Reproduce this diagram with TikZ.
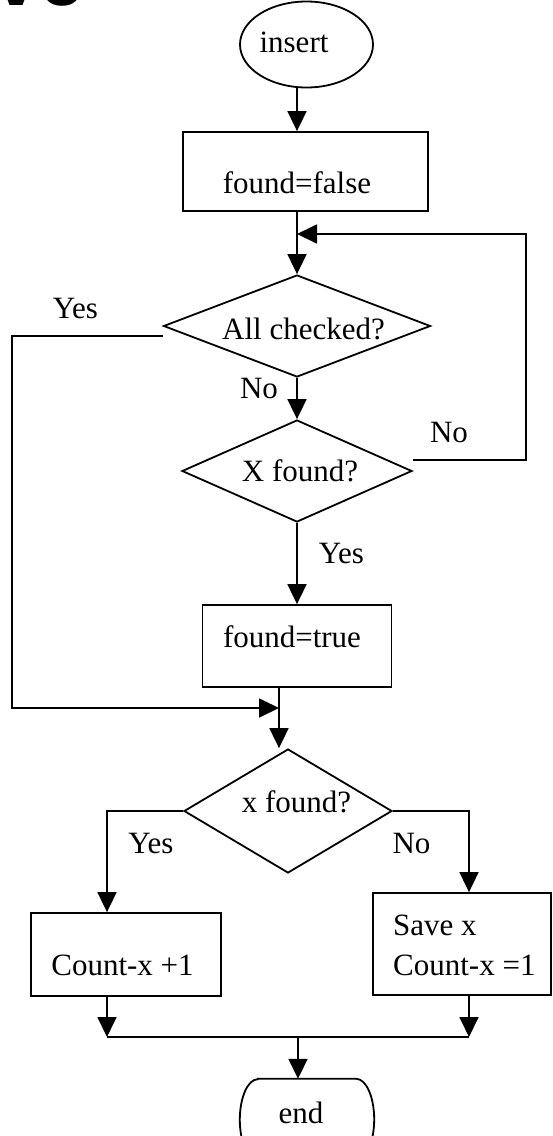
\documentclass[tikz,border=0pt]{standalone}
\usepackage{fontspec}
\setmainfont{Liberation Serif}
\newfontfamily\headfont{Liberation Sans}
\usetikzlibrary{arrows.meta,shapes.geometric,calc}

\tikzset{
  line/.style={line width=1.8pt, line join=miter},
  arr/.style={line, -{Triangle[length=20pt,width=19pt]}},
  shp/.style={line, draw, inner sep=0pt},
  boxnode/.style={shp, rectangle},
  decide/.style={shp, diamond},
  txt/.style={inner sep=0pt, font=\fontsize{31}{40}\selectfont},
}

\begin{document}
\begin{tikzpicture}[x=1pt, y=-1pt]
\useasboundingbox (0,0) rectangle (552,1136);
\clip (0,0) rectangle (552,1136);

% heading fragment at the top edge
\node[anchor=base west, inner sep=0pt, font=\headfont\bfseries\fontsize{80}{80}\selectfont] (hd) at (-5.5,5) {ve};

% shapes
\node[shp, ellipse, minimum width=133pt, minimum height=86pt] (ins) at (306.5,44.5) {};
\node[boxnode, minimum width=245pt, minimum height=79pt] (ff) at (305.5,171.5) {};
\node[decide, minimum width=267pt, minimum height=102pt] (ac) at (297,326) {};
\node[decide, minimum width=230pt, minimum height=102pt] (xf) at (297,471) {};
\node[boxnode, minimum width=189pt, minimum height=82pt] (ft) at (297,646) {};
\node[decide, minimum width=208pt, minimum height=124pt] (xx) at (288,811) {};
\node[boxnode, minimum width=190pt, minimum height=83pt] (cp) at (126,954.5) {};
\node[boxnode, minimum width=178pt, minimum height=102pt] (sv) at (462,944) {};
\node[inner sep=0pt, minimum width=134pt, minimum height=81pt] (en) at (307,1119.5) {};
\draw[line] ([xshift=18pt]en.north west) -- ([xshift=-18pt]en.north east)
  arc[start angle=-90, end angle=90, x radius=18, y radius=40.5]
  -- ([xshift=18pt]en.south west)
  arc[start angle=90, end angle=270, x radius=18, y radius=40.5] -- cycle;

% texts
\node[txt] (tins) at (294,42) {insert};
\node[txt] (tff) at (297,183) {found=false};
\node[txt] (tac) at (303.5,329) {All checked?};
\node[txt] (txf) at (300,471) {X found?};
\node[txt] (tft) at (292,637) {found=true};
\node[txt] (txx) at (296.5,802) {x found?};
\node[txt] (tcp) at (122.5,965) {Count-x +1};
\node[txt, anchor=west, align=left] (tsv) at (393,945) {Save x\\Count-x =1};
\node[txt] (ten) at (301,1113) {end};

% branch labels
\node[txt] (l1) at (75.5,308) {Yes};
\node[txt] (l2) at (259,388) {No};
\node[txt] (l3) at (449,432) {No};
\node[txt] (l4) at (341.5,553) {Yes};
\node[txt] (l5) at (151,843) {Yes};
\node[txt] (l6) at (411.5,843) {No};

% junction points
\coordinate (lr) at (526,234);
\coordinate (ll) at (12,708);
\coordinate (mj) at (279,708);
\coordinate (jl) at (107,1037);
\coordinate (jr) at (469,1037);
\coordinate (jm) at (298,1037);

% connectors
\draw[arr] ([xshift=-9.5pt]ins.south) -- ([xshift=-8.5pt]ff.north);
\draw[arr] ([xshift=-8.5pt]ff.south) -- (ac.north);
\draw[arr] (ac.south) -- (xf.north);
\draw[arr] (xf.south) -- (ft.north);
\draw[arr] ([yshift=11pt]xf.east) -| (lr) -- (lr -| ac.north);
\draw[arr] ([yshift=-10pt]ac.west) -| (ll) -- (mj);
\draw[arr] (ft.south -| mj) -- (mj |- xx.north);
\draw[arr] (xx.west) -| ([xshift=-19pt]cp.north);
\draw[arr] (xx.east) -| ([xshift=7pt]sv.north);
\draw[arr] ([xshift=-19pt]cp.south) -- (jl);
\draw[arr] ([xshift=7pt]sv.south) -- (jr);
\draw[line] (jl) -- (jr);
\draw[arr] (jm) -- (jm |- en.north);
\end{tikzpicture}
\end{document}
